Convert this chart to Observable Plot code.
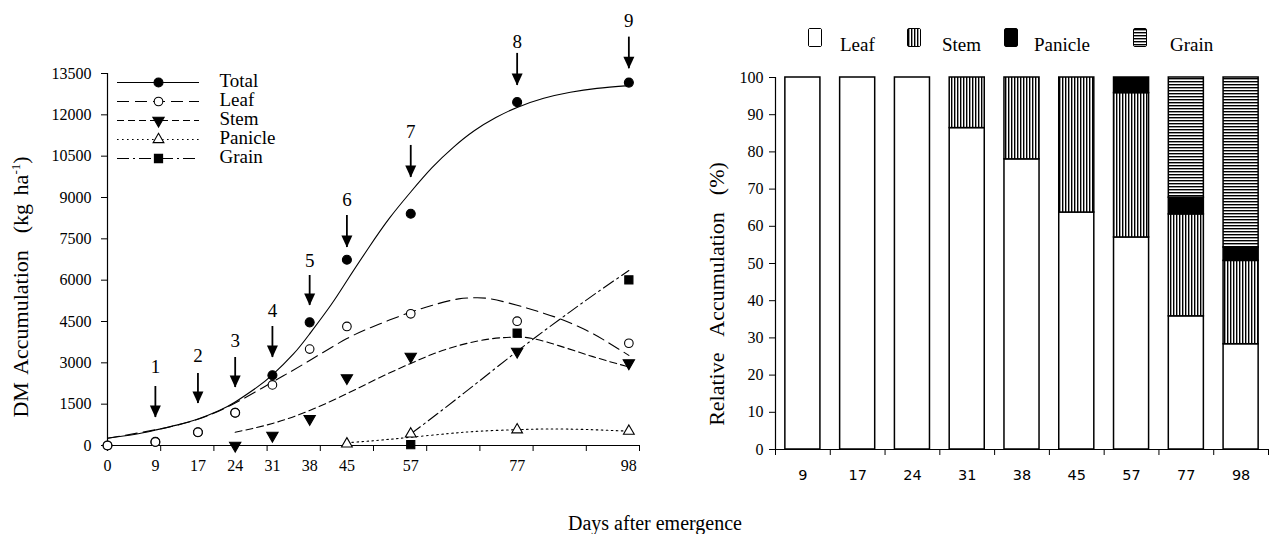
<!DOCTYPE html>
<html><head><meta charset="utf-8">
<script src="https://cdn.jsdelivr.net/npm/d3@7"></script>
<script src="https://cdn.jsdelivr.net/npm/@observablehq/plot@0.6"></script>
<style>
html,body{margin:0;padding:0;background:#fff;width:1274px;height:534px;overflow:hidden;position:relative;font-family:"Liberation Serif","Times New Roman",serif;color:#000;}
.abs{position:absolute;}
svg{max-width:none !important;}
.rot{white-space:nowrap;transform:translate(-50%,-50%) rotate(-90deg);font-size:22px;word-spacing:3px;}
.ctr{white-space:nowrap;transform:translate(-50%,-50%);}
.sw{position:absolute;width:12px;height:17px;border:1.5px solid #000;border-radius:2px;box-sizing:content-box;}
.lg{position:absolute;font-size:19px;line-height:1;}
</style></head><body>
<svg width="0" height="0" style="position:absolute"><defs>
<pattern id="vstripe" width="3" height="4" patternUnits="userSpaceOnUse"><rect width="3" height="4" fill="#fff"/><rect x="0" width="1.4" height="4" fill="#000"/></pattern>
<pattern id="hstripe" width="4" height="3" patternUnits="userSpaceOnUse"><rect width="4" height="3" fill="#fff"/><rect y="0" width="4" height="1.4" fill="#000"/></pattern>
</defs></svg>
<div id="left" class="abs" style="left:0;top:0"></div>
<div id="leftLegend" class="abs" style="left:110px;top:75px"></div>
<div id="right" class="abs" style="left:690px;top:0"></div>
<div id="rightLegend" class="abs" style="left:0;top:0"></div>
<div class="abs ctr" style="left:655px;top:523px;font-size:20px">Days after emergence</div>
<div class="abs rot" style="left:21px;top:287px">DM Accumulation&nbsp; (kg ha<sup style="font-size:13px">-1</sup>)</div>
<div class="abs rot" style="left:717px;top:294px">Relative&nbsp; Accumulation&nbsp; (%)</div>
<script>
// ---------- Left chart data (kg/ha) ----------
const days = [0, 9, 17, 24, 31, 38, 45, 57, 77, 98];
const totalDM   = [0, 130, 480, 1190, 2550, 4470, 6740, 8410, 12460, 13170];
const leafDM    = [0, 130, 480, 1190, 2200, 3500, 4320, 4780, 4510, 3710];
const stemDM    = [null, null, null, 0, 360, 970, 2450, 3230, 3410, 2990];
const panicleDM = [null, null, null, null, null, null, 60, 420, 570, 520];
const grainDM   = [null, null, null, null, null, null, null, 30, 4080, 6010];

// fitted curves
const totalFitDays = [0,5,9,13,17,21,24,28,31,35,38,42,45,49,53,57,61,65,69,73,77,82,87,92,98];
const totalFit     = [265,400,560,740,960,1270,1580,2100,2560,3330,4050,5100,5980,7150,8250,9200,10080,10820,11430,11900,12270,12600,12820,12960,13060];
const leafFitDays  = [0,9,17,24,31,38,45,51,57,62,66,69,72,77,81,85,90,94,98];
const leafFit      = [265,570,950,1540,2300,3085,3880,4400,4840,5140,5320,5360,5320,5090,4860,4600,4180,3750,3270];
const stemFitDays  = [24,31,38,45,51,57,62,67,72,76,80,86,92,98];
const stemFit      = [480,800,1270,1880,2450,2980,3380,3680,3870,3930,3880,3550,3180,2850];
const panicleFitDays = [45,51,57,64,70,77,83,90,98];
const panicleFit     = [100,190,300,430,520,575,600,580,520];
const grainFitDays = [57,62,67,72,77,82,87,92,98];
const grainFit     = [420,1150,1900,2660,3420,4150,4860,5550,6350];

// growth-stage arrows
const stageNum   = ["1","2","3","4","5","6","7","8","9"];
const stageDay   = [9, 17, 24, 31, 38, 45, 57, 77, 98];
const arrowTop   = [2142, 2613, 3194, 4319, 6170, 8348, 10889, 14229, 14820];
const arrowTip   = [1016, 1524, 2105, 3194, 5082, 7187, 9728, 13067, 13673];
const stageLabel = [2842, 3267, 3811, 4900, 6715, 8929, 11372, 14639, 15426];

const yTicksLeft = [0, 1500, 3000, 4500, 6000, 7500, 9000, 10500, 12000, 13500];
const xTickMarks = [0, 10, 20, 30, 40, 50, 60, 70, 80, 90, 100];

// ---------- Right chart data (%) ----------
const barDays    = [9, 17, 24, 31, 38, 45, 57, 77, 98];
const leafPct    = [100, 100, 100, 86.4, 78, 63.7, 57, 35.8, 28.3];
const stemPct    = [0, 0, 0, 13.6, 22, 36.3, 38.8, 27.4, 22.4];
const paniclePct = [0, 0, 0, 0, 0, 0, 4.2, 4.5, 3.6];
const grainPct   = [0, 0, 0, 0, 0, 0, 0, 32.3, 45.7];
const yTicksRight = [0, 10, 20, 30, 40, 50, 60, 70, 80, 90, 100];

const seriesNames = ["Total", "Leaf", "Stem", "Panicle", "Grain"];
const partNames = ["Leaf", "Stem", "Panicle", "Grain"];

// ---------- styles ----------
const SERIF = "Liberation Serif";
const lineStyles = {
  Total:   {dash: null},
  Leaf:    {dash: "12,6"},
  Stem:    {dash: "7,4"},
  Panicle: {dash: "1.6,3.4"},
  Grain:   {dash: "12,4,2,4"}
};
const dotStyles = {
  Total:   {symbol: "circle", fill: "black", stroke: "black", r: 4.5},
  Leaf:    {symbol: "circle", fill: "white", stroke: "black", r: 4.3},
  Stem:    {symbol: "triangle", fill: "black", stroke: "black", r: 4.2, rotate: 180},
  Panicle: {symbol: "triangle", fill: "white", stroke: "black", r: 4.0, rotate: 0},
  Grain:   {symbol: "square", fill: "black", stroke: "black", r: 4.6}
};
const arrowHead = {draw(ctx) { ctx.moveTo(0, 0); ctx.lineTo(-5.5, -12); ctx.lineTo(5.5, -12); ctx.closePath(); }};

const pts = (xs, ys) => xs.map((x, i) => ({x, y: ys[i]})).filter(d => d.y != null);
const pointSets = {
  Total: pts(days, totalDM), Leaf: pts(days, leafDM), Stem: pts(days, stemDM),
  Panicle: pts(days, panicleDM), Grain: pts(days, grainDM)
};
const fitSets = {
  Total: pts(totalFitDays, totalFit), Leaf: pts(leafFitDays, leafFit), Stem: pts(stemFitDays, stemFit),
  Panicle: pts(panicleFitDays, panicleFit), Grain: pts(grainFitDays, grainFit)
};
const arrows = stageNum.map((n, i) => ({n, x: stageDay[i], top: arrowTop[i], tip: arrowTip[i], lab: stageLabel[i]}));

const dotMark = (name, data, extra = {}) => {
  const s = dotStyles[name];
  return Plot.dot(data, {x: "x", y: "y", symbol: s.symbol, r: s.r, fill: s.fill, stroke: s.stroke,
    strokeWidth: 1.1, rotate: s.rotate || 0, ...extra});
};
const lineMark = (name, data, extra = {}) =>
  Plot.line(data, {x: "x", y: "y", stroke: "black", strokeWidth: 1.1, curve: "natural",
    strokeDasharray: lineStyles[name].dash || undefined, ...extra});

const left = Plot.plot({
  width: 660, height: 500,
  marginLeft: 107, marginRight: 21, marginTop: 73, marginBottom: 55,
  x: {domain: [0, 100]},
  y: {domain: [0, 13500]},
  style: {fontFamily: SERIF, fontSize: "16px", color: "#000", background: "transparent", overflow: "visible", maxWidth: "none"},
  marks: [
    Plot.ruleX([0], {y1: 0, y2: 13500, stroke: "black", strokeWidth: 1.2}),
    Plot.ruleY([0], {x1: 0, x2: 100, stroke: "black", strokeWidth: 1.2}),
    Plot.axisY(yTicksLeft, {tickSize: 6, tickPadding: 10, tickFormat: d => String(d), label: null, stroke: "black"}),
    Plot.axisX(xTickMarks, {tickSize: 6, tickFormat: () => "", label: null, stroke: "black"}),
    Plot.text(days.map(d => ({x: d, y: 0, t: String(d)})), {x: "x", y: "y", text: "t", dy: 20, lineAnchor: "middle", fontSize: 16}),
    ...seriesNames.map(n => lineMark(n, fitSets[n])),
    ...seriesNames.map(n => dotMark(n, pointSets[n])),
    Plot.ruleX(arrows, {x: "x", y1: "top", y2: "tip", stroke: "black", strokeWidth: 1.8}),
    Plot.dot(arrows, {x: "x", y: "tip", symbol: arrowHead, fill: "black", stroke: "none"}),
    Plot.text(arrows, {x: "x", y: "lab", text: "n", fontSize: 19, lineAnchor: "middle"})
  ]
});
document.getElementById("left").appendChild(left);

// left legend
const legend = Plot.plot({
  width: 220, height: 100, margin: 0,
  x: {domain: [0, 1], range: [7, 89], axis: null},
  y: {type: "point", domain: seriesNames, range: [6, 83], padding: 0, axis: null},
  style: {fontFamily: SERIF, background: "transparent", overflow: "visible", maxWidth: "none"},
  marks: [
    ...seriesNames.map(n => Plot.ruleY([n], {x1: 0, x2: 1, stroke: "black", strokeWidth: 1.1,
      strokeDasharray: lineStyles[n].dash || undefined})),
    ...seriesNames.map(n => dotMark(n, [{x: 0.5, y: n}])),
    Plot.text(seriesNames, {x: 1, y: d => d, text: d => d, dx: 20, dy: -2, textAnchor: "start", fontSize: 19, lineAnchor: "middle"})
  ]
});
document.getElementById("leftLegend").appendChild(legend);

// ---------- right chart ----------
const partFill = {Leaf: "white", Stem: "url(#vstripe)", Panicle: "black", Grain: "url(#hstripe)"};
const partPct = {Leaf: leafPct, Stem: stemPct, Panicle: paniclePct, Grain: grainPct};
const stacked = [];
barDays.forEach((d, i) => {
  let base = 0;
  partNames.forEach(p => {
    const v = partPct[p][i];
    if (v > 0) stacked.push({i, part: p, y1: base, y2: base + v});
    base += v;
  });
});
const right = Plot.plot({
  width: 588, height: 500,
  marginLeft: 85, marginRight: 10, marginTop: 77, marginBottom: 51,
  x: {domain: [0, barDays.length]},
  y: {domain: [0, 100]},
  style: {fontFamily: SERIF, fontSize: "16px", color: "#000", background: "transparent", overflow: "visible", maxWidth: "none"},
  marks: [
    ...partNames.map(p => Plot.rectY(stacked.filter(d => d.part === p), {
      x1: d => d.i + 0.18, x2: d => d.i + 0.82, y1: "y1", y2: "y2",
      fill: partFill[p], stroke: "black", strokeWidth: 1.5})),
    Plot.ruleX([0], {y1: 0, y2: 100, stroke: "black", strokeWidth: 1.2}),
    Plot.ruleY([0], {x1: 0, x2: barDays.length, stroke: "black", strokeWidth: 1.2}),
    Plot.axisY(yTicksRight, {tickSize: 6, tickPadding: 6, tickFormat: d => String(d), label: null, stroke: "black"}),
    Plot.axisX(d3.range(barDays.length + 1), {tickSize: 6, tickFormat: () => "", label: null, stroke: "black"}),
    Plot.text(barDays.map((d, i) => ({x: i + 0.5, y: 0, t: String(d)})), {x: "x", y: "y", text: "t", dy: 26,
      lineAnchor: "middle", fontSize: 14.5, fontFamily: "DejaVu Sans"})
  ]
});
document.getElementById("right").appendChild(right);

// right legend
const lgX = {Leaf: [808, 840], Stem: [907, 942], Panicle: [1004, 1034], Grain: [1133, 1170]};
const rl = document.getElementById("rightLegend");
partNames.forEach(p => {
  const sw = document.createElement("div");
  sw.className = "sw";
  sw.style.left = lgX[p][0] + "px"; sw.style.top = "28px";
  sw.innerHTML = `<svg width="12" height="17" style="display:block"><rect width="12" height="17" fill="${partFill[p]}"/></svg>`;
  rl.appendChild(sw);
  const t = document.createElement("div");
  t.className = "lg"; t.textContent = p;
  t.style.left = lgX[p][1] + "px"; t.style.top = "35px";
  rl.appendChild(t);
});
</script>
</body></html>
